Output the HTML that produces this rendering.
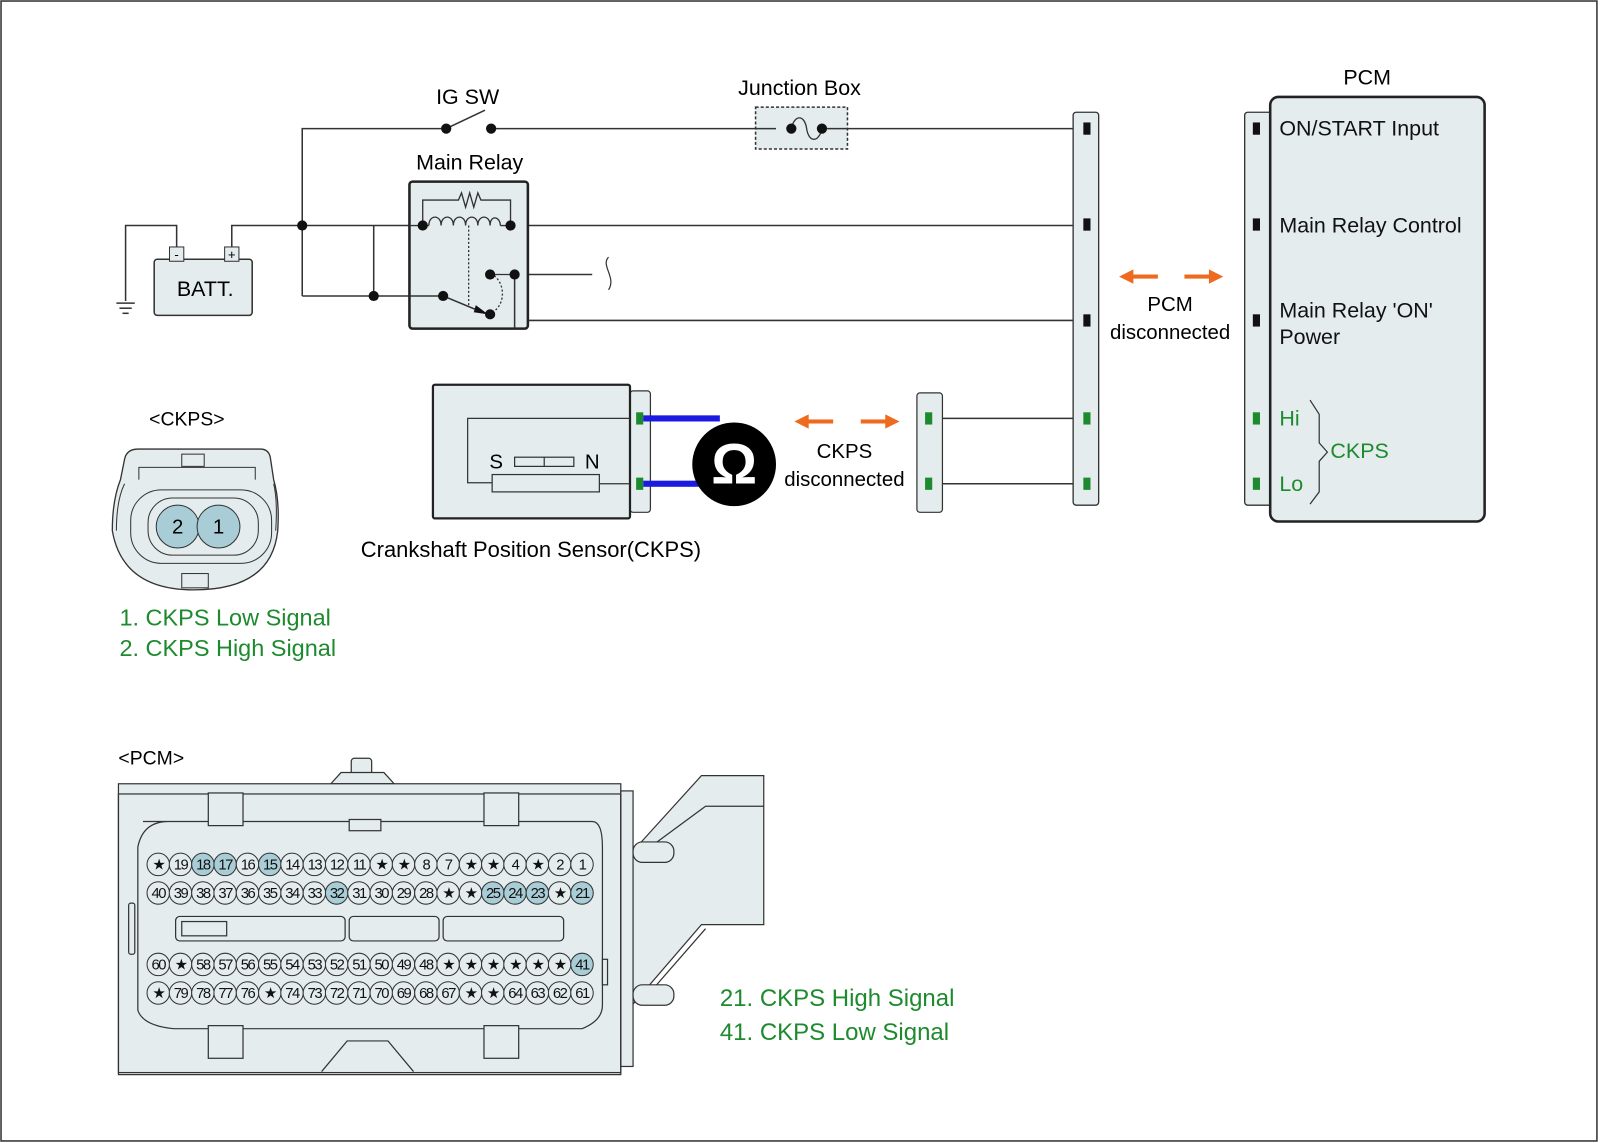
<!DOCTYPE html>
<html><head><meta charset="utf-8"><style>
html,body{margin:0;padding:0;background:#fff}
svg{display:block}
text{font-family:"Liberation Sans",Arial,sans-serif}
</style></head><body>
<svg width="1600" height="1143" viewBox="0 0 1567 1120" preserveAspectRatio="none" xmlns="http://www.w3.org/2000/svg">
<rect x="1" y="1" width="1563" height="1117" fill="#fff" stroke="#333" stroke-width="1.5"/>
<g stroke="#333" stroke-width="1.5" fill="none">
<polyline points="296,290 296,126 436,126"/>
<line x1="482" y1="126" x2="1064" y2="126"/>
<line x1="437" y1="126" x2="475" y2="108"/>
<polyline points="123,295 123,221 173,221 173,245"/>
<polyline points="227,245 227,221 500,221"/>
<line x1="296" y1="290" x2="434" y2="290"/>
<polyline points="366,290 366,221"/>
<line x1="500" y1="221" x2="1064" y2="221"/>
<line x1="480" y1="269" x2="580" y2="269"/>
<polyline points="504,269 504,314 1064,314"/>
<line x1="904" y1="410" x2="1064" y2="410"/>
<line x1="904" y1="474" x2="1064" y2="474"/>
</g>
<g stroke="#333" stroke-width="1.5"><line x1="114" y1="297" x2="132" y2="297"/><line x1="117" y1="302" x2="129" y2="302"/><line x1="120" y1="307" x2="126" y2="307"/></g>
<path d="M596,252 C588,260 604,272 596,284" stroke="#333" fill="none" stroke-width="1.2"/>
<rect x="151" y="254" width="96" height="55" rx="3" fill="#e4eced" stroke="#333" stroke-width="1.5"/>
<rect x="166" y="242" width="14" height="14" fill="#e4eced" stroke="#333"/>
<rect x="220" y="242" width="14" height="14" fill="#e4eced" stroke="#333"/>
<text x="173" y="254" font-size="13" text-anchor="middle">-</text>
<text x="227" y="254" font-size="13" text-anchor="middle">+</text>
<text x="201" y="290" font-size="21" text-anchor="middle">BATT.</text>
<text x="458" y="102" font-size="21" text-anchor="middle">IG SW</text>
<circle cx="437" cy="126" r="5" fill="#111"/><circle cx="481" cy="126" r="5" fill="#111"/>
<circle cx="296" cy="221" r="5" fill="#111"/><circle cx="366" cy="290" r="5" fill="#111"/>
<text x="783" y="93" font-size="21" text-anchor="middle">Junction Box</text>
<rect x="740" y="105" width="90" height="41" fill="#e4eced" stroke="#333" stroke-width="1.5" stroke-dasharray="3,2"/>
<line x1="740" y1="126" x2="830" y2="126" stroke="#333" stroke-width="1.5"/>
<rect x="760" y="116" width="50" height="20" fill="#e4eced"/>
<path d="M775,126 C778,112 788,112 790,126 C792,140 802,140 805,126" stroke="#333" fill="none" stroke-width="1.3"/>
<circle cx="775" cy="126" r="5" fill="#111"/><circle cx="805" cy="126" r="5" fill="#111"/>
<text x="460" y="166" font-size="21" text-anchor="middle">Main Relay</text>
<rect x="401" y="178" width="116" height="144" rx="3" fill="#e4eced" stroke="#222" stroke-width="2.5"/>
<g stroke="#333" fill="none" stroke-width="1.3">
<line x1="401" y1="221" x2="500" y2="221"/>
<line x1="401" y1="290" x2="434" y2="290" stroke-width="1.5"/>
<line x1="434" y1="290" x2="470" y2="305" stroke-width="1.5"/>
<polyline points="504,269 504,322" stroke-width="1.5"/>
<polyline points="414,221 414,196 449,196 452,189 456,203 460,189 464,203 468,189 471,196 500,196 500,221"/>
<rect x="420" y="212" width="70" height="10" fill="#e4eced" stroke="none"/>
<path d="M420,221 C420,210 432,210 432,221 C432,210 444,210 444,221 C444,210 456,210 456,221 C456,210 468,210 468,221 C468,210 480,210 480,221 C480,210 490,212 490,221"/>
<line x1="459" y1="221" x2="459" y2="301" stroke-dasharray="2,2"/>
<path d="M484,270 C496,280 494,300 482,306" stroke-dasharray="2,2"/>
<line x1="480" y1="269" x2="504" y2="269"/>
</g>
<polygon points="478,308 466,299 464,306" fill="#111"/>
<circle cx="414" cy="221" r="5" fill="#111"/><circle cx="500" cy="221" r="5" fill="#111"/>
<circle cx="480" cy="269" r="5" fill="#111"/><circle cx="504" cy="269" r="5" fill="#111"/>
<circle cx="434" cy="290" r="5" fill="#111"/><circle cx="480" cy="308" r="5" fill="#111"/>
<rect x="1051" y="110" width="25" height="385" rx="3" fill="#e4eced" stroke="#333" stroke-width="1.3"/>
<g fill="#111"><rect x="1061" y="120" width="7" height="12"/><rect x="1061" y="214" width="7" height="12"/><rect x="1061" y="308" width="7" height="12"/></g>
<g fill="#1e8a2e"><rect x="1061" y="404" width="7" height="12"/><rect x="1061" y="468" width="7" height="12"/></g>
<text x="1339" y="83" font-size="21" text-anchor="middle">PCM</text>
<rect x="1219" y="110" width="30" height="385" rx="3" fill="#e4eced" stroke="#333" stroke-width="1.3"/>
<rect x="1244" y="95" width="210" height="416" rx="8" fill="#e4eced" stroke="#222" stroke-width="2.5"/>
<g fill="#111"><rect x="1227" y="120" width="7" height="12"/><rect x="1227" y="214" width="7" height="12"/><rect x="1227" y="308" width="7" height="12"/></g>
<g fill="#1e8a2e"><rect x="1227" y="404" width="7" height="12"/><rect x="1227" y="468" width="7" height="12"/></g>
<g font-size="21" fill="#111">
<text x="1253" y="133">ON/START Input</text>
<text x="1253" y="228">Main Relay Control</text>
<text x="1253" y="311">Main Relay 'ON'</text>
<text x="1253" y="337">Power</text>
</g>
<g font-size="21" fill="#1e8a2e">
<text x="1253" y="417">Hi</text><text x="1253" y="481">Lo</text><text x="1303" y="449">CKPS</text>
</g>
<path d="M1283,392 L1292,406 L1292,434 L1300,443 L1292,452 L1292,482 L1283,494" stroke="#333" fill="none" stroke-width="1.2"/>
<g fill="#ee6a1e">
<rect x="1108" y="269" width="26" height="4"/><polygon points="1096,271 1110,264 1110,278"/>
<rect x="1160" y="269" width="26" height="4"/><polygon points="1198,271 1184,264 1184,278"/>
<rect x="790" y="411" width="26" height="4"/><polygon points="778,413 792,406 792,420"/>
<rect x="843" y="411" width="26" height="4"/><polygon points="881,413 867,406 867,420"/>
</g>
<text x="1146" y="305" font-size="20" text-anchor="middle">PCM</text>
<text x="1146" y="332" font-size="20" text-anchor="middle">disconnected</text>
<text x="827" y="449" font-size="20" text-anchor="middle">CKPS</text>
<text x="827" y="476" font-size="20" text-anchor="middle">disconnected</text>
<rect x="617" y="383" width="20" height="119" rx="3" fill="#e4eced" stroke="#333" stroke-width="1.2"/>
<rect x="424" y="377" width="193" height="131" rx="2" fill="#e4eced" stroke="#222" stroke-width="2.2"/>
<g stroke="#333" fill="none" stroke-width="1.2">
<polyline points="617,410 458,410 458,473 482,473"/>
<rect x="482" y="465" width="105" height="17" fill="#e4eced"/>
<line x1="587" y1="474" x2="617" y2="474"/>
<rect x="504" y="448" width="58" height="9"/><line x1="533" y1="448" x2="533" y2="457"/>
</g>
<text x="486" y="459" font-size="20" text-anchor="middle">S</text>
<text x="580" y="459" font-size="20" text-anchor="middle">N</text>
<g fill="#1e8a2e"><rect x="623" y="404" width="7" height="12"/><rect x="623" y="468" width="7" height="12"/></g>
<rect x="630" y="407" width="75" height="6" fill="#1a1ae0"/><rect x="630" y="471" width="75" height="6" fill="#1a1ae0"/>
<circle cx="719" cy="455" r="41" fill="#000"/>
<text x="719" y="474" font-size="56" fill="#fff" text-anchor="middle" font-weight="bold">Ω</text>
<rect x="898" y="385" width="25" height="117" rx="3" fill="#e4eced" stroke="#333" stroke-width="1.2"/>
<g fill="#1e8a2e"><rect x="906" y="404" width="7" height="12"/><rect x="906" y="468" width="7" height="12"/></g>
<text x="520" y="546" font-size="21.5" text-anchor="middle">Crankshaft Position Sensor(CKPS)</text>
<!-- CKPS connector -->
<text x="183" y="417" font-size="19" text-anchor="middle">&lt;CKPS&gt;</text>
<path d="M135,440 L255,440 Q264,440 265,450 L268,470 Q274,490 272,520 Q266,578 190,578 Q120,578 110,520 Q110,490 118,470 L122,450 Q124,440 135,440 Z" fill="#e4eced" stroke="#333" stroke-width="1.3"/>
<path d="M114,520 Q114,490 122,474 M268,474 Q272,490 270,520" fill="none" stroke="#333" stroke-width="1"/>
<path d="M136,470 L136,458 L250,458 L250,470" fill="none" stroke="#333"/>
<rect x="178" y="445" width="22" height="12" fill="#e4eced" stroke="#333"/>
<rect x="128" y="480" width="138" height="72" rx="30" fill="#e4eced" stroke="#333"/>
<rect x="145" y="488" width="108" height="56" rx="24" fill="#e4eced" stroke="#333"/>
<rect x="178" y="562" width="26" height="14" fill="#e4eced" stroke="#333"/>
<circle cx="174" cy="516" r="21" fill="#a9cdd6" stroke="#333"/>
<circle cx="214" cy="516" r="21" fill="#a9cdd6" stroke="#333"/>
<text x="174" y="523" font-size="20" text-anchor="middle">2</text>
<text x="214" y="523" font-size="20" text-anchor="middle">1</text>
<g font-size="23" fill="#1e8a2e">
<text x="117" y="613">1. CKPS Low Signal</text>
<text x="117" y="643">2. CKPS High Signal</text>
<text x="705" y="986" font-size="23.5">21. CKPS High Signal</text>
<text x="705" y="1019" font-size="23.5">41. CKPS Low Signal</text>
</g>
<text x="116" y="749" font-size="19">&lt;PCM&gt;</text>
<g fill="#e4eced" stroke="#333" stroke-width="1.2">
<path d="M619,835 L687,760 L748,760 L748,906 L687,906 L619,985 Z"/>
<path d="M630,835 L691,790 L748,790 M630,980 L691,910"/>
<rect x="344" y="743" width="20" height="25" rx="3"/>
<path d="M324,768 L334,757 L376,757 L386,768 Z"/>
<rect x="116" y="768" width="492" height="285"/>
<rect x="608" y="775" width="12" height="270"/>
<rect x="116" y="778" width="492" height="273" fill="none"/>
<rect x="620" y="825" width="40" height="20" rx="9"/>
<rect x="620" y="965" width="40" height="20" rx="9"/>
<path d="M140,805 L580,805 Q590,805 590,830 L590,985 Q590,1000 570,1008 L170,1008 Q140,1005 135,990 L135,830 Q140,805 165,805 Z"/>
<rect x="204" y="777" width="34" height="32"/><rect x="474" y="777" width="34" height="32"/>
<rect x="204" y="1005" width="34" height="32"/><rect x="474" y="1005" width="34" height="32"/>
<rect x="342" y="803" width="31" height="11"/>
<path d="M315,1050 L340,1020 L380,1020 L405,1050"/>
<rect x="172" y="898" width="166" height="24" rx="4"/>
<rect x="342" y="898" width="88" height="24" rx="4"/>
<rect x="434" y="898" width="118" height="24" rx="4"/>
<rect x="178" y="903" width="44" height="14"/>
<rect x="126" y="885" width="6" height="50" rx="2"/>
<rect x="590" y="940" width="5" height="25"/>
</g>
<g stroke="#333" stroke-width="1" font-size="14.5" text-anchor="middle">
<g fill="#e4eced">
<circle cx="155" cy="847" r="11"/><circle cx="176.8" cy="847" r="11"/><circle cx="198.7" cy="847" r="11" fill="#a9cdd6"/><circle cx="220.5" cy="847" r="11" fill="#a9cdd6"/><circle cx="242.4" cy="847" r="11"/><circle cx="264.2" cy="847" r="11" fill="#a9cdd6"/><circle cx="286" cy="847" r="11"/><circle cx="307.9" cy="847" r="11"/><circle cx="329.7" cy="847" r="11"/><circle cx="351.6" cy="847" r="11"/><circle cx="373.4" cy="847" r="11"/><circle cx="395.2" cy="847" r="11"/><circle cx="417.1" cy="847" r="11"/><circle cx="438.9" cy="847" r="11"/><circle cx="460.8" cy="847" r="11"/><circle cx="482.6" cy="847" r="11"/><circle cx="504.4" cy="847" r="11"/><circle cx="526.3" cy="847" r="11"/><circle cx="548.1" cy="847" r="11"/><circle cx="570" cy="847" r="11"/>
<circle cx="155" cy="875" r="11"/><circle cx="176.8" cy="875" r="11"/><circle cx="198.7" cy="875" r="11"/><circle cx="220.5" cy="875" r="11"/><circle cx="242.4" cy="875" r="11"/><circle cx="264.2" cy="875" r="11"/><circle cx="286" cy="875" r="11"/><circle cx="307.9" cy="875" r="11"/><circle cx="329.7" cy="875" r="11" fill="#a9cdd6"/><circle cx="351.6" cy="875" r="11"/><circle cx="373.4" cy="875" r="11"/><circle cx="395.2" cy="875" r="11"/><circle cx="417.1" cy="875" r="11"/><circle cx="438.9" cy="875" r="11"/><circle cx="460.8" cy="875" r="11"/><circle cx="482.6" cy="875" r="11" fill="#a9cdd6"/><circle cx="504.4" cy="875" r="11" fill="#a9cdd6"/><circle cx="526.3" cy="875" r="11" fill="#a9cdd6"/><circle cx="548.1" cy="875" r="11"/><circle cx="570" cy="875" r="11" fill="#a9cdd6"/>
<circle cx="155" cy="945" r="11"/><circle cx="176.8" cy="945" r="11"/><circle cx="198.7" cy="945" r="11"/><circle cx="220.5" cy="945" r="11"/><circle cx="242.4" cy="945" r="11"/><circle cx="264.2" cy="945" r="11"/><circle cx="286" cy="945" r="11"/><circle cx="307.9" cy="945" r="11"/><circle cx="329.7" cy="945" r="11"/><circle cx="351.6" cy="945" r="11"/><circle cx="373.4" cy="945" r="11"/><circle cx="395.2" cy="945" r="11"/><circle cx="417.1" cy="945" r="11"/><circle cx="438.9" cy="945" r="11"/><circle cx="460.8" cy="945" r="11"/><circle cx="482.6" cy="945" r="11"/><circle cx="504.4" cy="945" r="11"/><circle cx="526.3" cy="945" r="11"/><circle cx="548.1" cy="945" r="11"/><circle cx="570" cy="945" r="11" fill="#a9cdd6"/>
<circle cx="155" cy="973" r="11"/><circle cx="176.8" cy="973" r="11"/><circle cx="198.7" cy="973" r="11"/><circle cx="220.5" cy="973" r="11"/><circle cx="242.4" cy="973" r="11"/><circle cx="264.2" cy="973" r="11"/><circle cx="286" cy="973" r="11"/><circle cx="307.9" cy="973" r="11"/><circle cx="329.7" cy="973" r="11"/><circle cx="351.6" cy="973" r="11"/><circle cx="373.4" cy="973" r="11"/><circle cx="395.2" cy="973" r="11"/><circle cx="417.1" cy="973" r="11"/><circle cx="438.9" cy="973" r="11"/><circle cx="460.8" cy="973" r="11"/><circle cx="482.6" cy="973" r="11"/><circle cx="504.4" cy="973" r="11"/><circle cx="526.3" cy="973" r="11"/><circle cx="548.1" cy="973" r="11"/><circle cx="570" cy="973" r="11"/>
</g>
<g fill="#111" stroke="none" letter-spacing="-1.5">
<text x="155" y="852">★</text><text x="176.8" y="852">19</text><text x="198.7" y="852">18</text><text x="220.5" y="852">17</text><text x="242.4" y="852">16</text><text x="264.2" y="852">15</text><text x="286" y="852">14</text><text x="307.9" y="852">13</text><text x="329.7" y="852">12</text><text x="351.6" y="852">11</text><text x="373.4" y="852">★</text><text x="395.2" y="852">★</text><text x="417.1" y="852">8</text><text x="438.9" y="852">7</text><text x="460.8" y="852">★</text><text x="482.6" y="852">★</text><text x="504.4" y="852">4</text><text x="526.3" y="852">★</text><text x="548.1" y="852">2</text><text x="570" y="852">1</text>
<text x="155" y="880">40</text><text x="176.8" y="880">39</text><text x="198.7" y="880">38</text><text x="220.5" y="880">37</text><text x="242.4" y="880">36</text><text x="264.2" y="880">35</text><text x="286" y="880">34</text><text x="307.9" y="880">33</text><text x="329.7" y="880">32</text><text x="351.6" y="880">31</text><text x="373.4" y="880">30</text><text x="395.2" y="880">29</text><text x="417.1" y="880">28</text><text x="438.9" y="880">★</text><text x="460.8" y="880">★</text><text x="482.6" y="880">25</text><text x="504.4" y="880">24</text><text x="526.3" y="880">23</text><text x="548.1" y="880">★</text><text x="570" y="880">21</text>
<text x="155" y="950">60</text><text x="176.8" y="950">★</text><text x="198.7" y="950">58</text><text x="220.5" y="950">57</text><text x="242.4" y="950">56</text><text x="264.2" y="950">55</text><text x="286" y="950">54</text><text x="307.9" y="950">53</text><text x="329.7" y="950">52</text><text x="351.6" y="950">51</text><text x="373.4" y="950">50</text><text x="395.2" y="950">49</text><text x="417.1" y="950">48</text><text x="438.9" y="950">★</text><text x="460.8" y="950">★</text><text x="482.6" y="950">★</text><text x="504.4" y="950">★</text><text x="526.3" y="950">★</text><text x="548.1" y="950">★</text><text x="570" y="950">41</text>
<text x="155" y="978">★</text><text x="176.8" y="978">79</text><text x="198.7" y="978">78</text><text x="220.5" y="978">77</text><text x="242.4" y="978">76</text><text x="264.2" y="978">★</text><text x="286" y="978">74</text><text x="307.9" y="978">73</text><text x="329.7" y="978">72</text><text x="351.6" y="978">71</text><text x="373.4" y="978">70</text><text x="395.2" y="978">69</text><text x="417.1" y="978">68</text><text x="438.9" y="978">67</text><text x="460.8" y="978">★</text><text x="482.6" y="978">★</text><text x="504.4" y="978">64</text><text x="526.3" y="978">63</text><text x="548.1" y="978">62</text><text x="570" y="978">61</text>
</g>
</g>
</svg>
</body></html>
